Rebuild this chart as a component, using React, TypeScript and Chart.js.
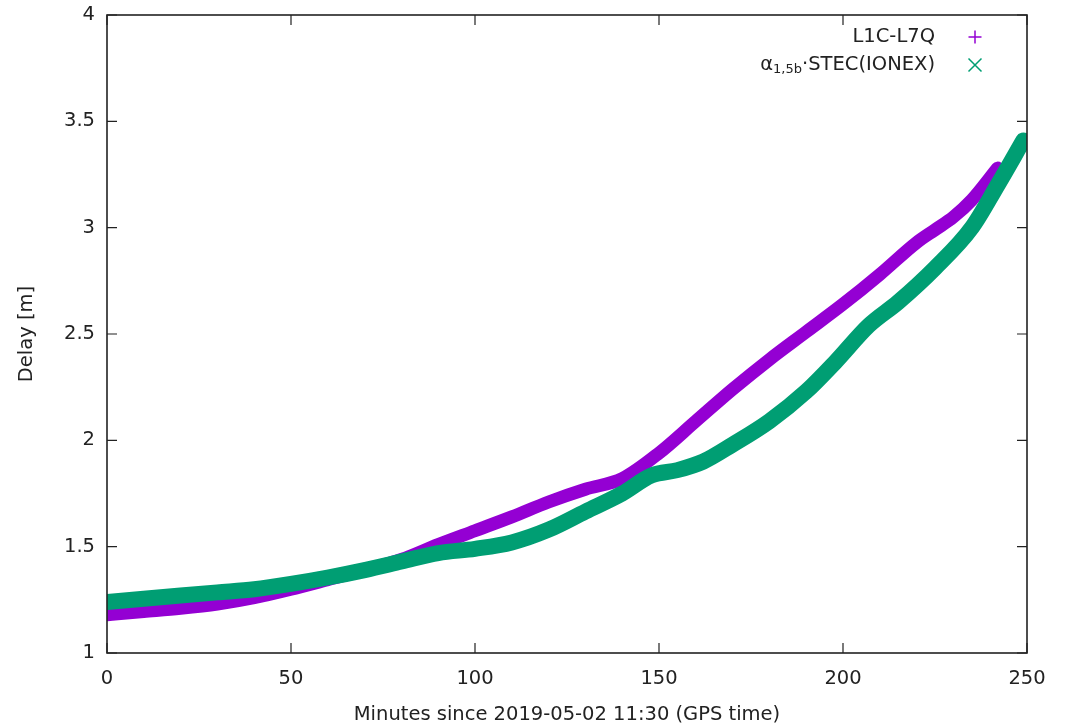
import React, { useEffect, useRef } from "react";
import { Chart, registerables } from "chart.js";

Chart.register(...registerables);

// L1C-L7Q (purple)
const minutesL1C = [0, 10, 20, 30, 40, 50, 60, 70, 80, 90, 100, 110, 120, 130, 140, 150, 160, 170, 180, 190, 200, 210, 220, 225, 230, 235, 242];
const delayL1C = [1.18, 1.195, 1.21, 1.23, 1.26, 1.3, 1.345, 1.39, 1.44, 1.51, 1.575, 1.64, 1.71, 1.77, 1.82, 1.94, 2.09, 2.24, 2.38, 2.51, 2.64, 2.78, 2.93, 2.99, 3.05, 3.13, 3.28];

// alpha * STEC(IONEX) (green)
const minutesIonex = [0, 10, 20, 30, 40, 50, 60, 70, 80, 90, 100, 110, 120, 130, 140, 148, 155, 162, 170, 180, 190, 198, 207, 215, 225, 235, 242, 249];
const delayIonex = [1.24, 1.255, 1.27, 1.285, 1.3, 1.325, 1.355, 1.39, 1.43, 1.47, 1.49, 1.52, 1.58, 1.665, 1.75, 1.835, 1.86, 1.9, 1.98, 2.09, 2.23, 2.37, 2.54, 2.65, 2.81, 3.0, 3.2, 3.41];

const xTickValues = [0, 50, 100, 150, 200, 250];
const yTickValues = [1, 1.5, 2, 2.5, 3, 3.5, 4];

const PURPLE = "#9400d3";
const GREEN = "#009e73";
const INK = "#222222";
const FONT_FAMILY = "'DejaVu Sans', sans-serif";
const FONT_SIZE = 19.5;

const framePlugin = {
  id: "gnuplotFrame",
  afterDraw(chart: any) {
    const { ctx, chartArea } = chart;
    const { left, right, top, bottom } = chartArea;
    const xs = chart.scales.x;
    const ys = chart.scales.y;
    ctx.save();
    ctx.strokeStyle = INK;
    ctx.lineWidth = 1.6;
    ctx.strokeRect(left, top, right - left, bottom - top);
    ctx.lineWidth = 1.2;
    ctx.beginPath();
    xs.ticks.forEach((t: any) => {
      const px = xs.getPixelForValue(t.value);
      ctx.moveTo(px, bottom);
      ctx.lineTo(px, bottom - 10);
      ctx.moveTo(px, top);
      ctx.lineTo(px, top + 10);
    });
    ys.ticks.forEach((t: any) => {
      const py = ys.getPixelForValue(t.value);
      ctx.moveTo(left, py);
      ctx.lineTo(left + 10, py);
      ctx.moveTo(right, py);
      ctx.lineTo(right - 10, py);
    });
    ctx.stroke();

    // legend
    const textRight = 935;
    const markX = 975;
    const row1 = 37;
    const row2 = 65;
    ctx.fillStyle = INK;
    ctx.textBaseline = "middle";
    ctx.textAlign = "right";
    ctx.font = `${FONT_SIZE}px ${FONT_FAMILY}`;
    ctx.fillText("L1C-L7Q", textRight, row1);

    const mainFont = `${FONT_SIZE}px ${FONT_FAMILY}`;
    const subFont = `13px ${FONT_FAMILY}`;
    ctx.font = mainFont;
    const wA = ctx.measureText("α").width;
    const wRest = ctx.measureText("·STEC(IONEX)").width;
    ctx.font = subFont;
    const wSub = ctx.measureText("1,5b").width;
    let x0 = textRight - (wA + wSub + wRest);
    ctx.textAlign = "left";
    ctx.font = mainFont;
    ctx.fillText("α", x0, row2);
    x0 += wA;
    ctx.font = subFont;
    ctx.fillText("1,5b", x0, row2 + 5);
    x0 += wSub;
    ctx.font = mainFont;
    ctx.fillText("·STEC(IONEX)", x0, row2);

    const h = 6.5;
    ctx.lineWidth = 1.5;
    ctx.strokeStyle = PURPLE;
    ctx.beginPath();
    ctx.moveTo(markX - h, row1);
    ctx.lineTo(markX + h, row1);
    ctx.moveTo(markX, row1 - h);
    ctx.lineTo(markX, row1 + h);
    ctx.stroke();
    ctx.strokeStyle = GREEN;
    ctx.beginPath();
    ctx.moveTo(markX - h, row2 - h);
    ctx.lineTo(markX + h, row2 + h);
    ctx.moveTo(markX - h, row2 + h);
    ctx.lineTo(markX + h, row2 - h);
    ctx.stroke();
    ctx.restore();
  },
};

export default function App() {
  const canvasRef = useRef<HTMLCanvasElement | null>(null);

  useEffect(() => {
    const canvas = canvasRef.current;
    if (!canvas) return;
    const purpleData = minutesL1C.map((m, i) => ({ x: m, y: delayL1C[i] }));
    const greenData = minutesIonex.map((m, i) => ({ x: m, y: delayIonex[i] }));
    const tickFont = { family: FONT_FAMILY, size: FONT_SIZE };

    const chart = new Chart(canvas, {
      type: "line",
      data: {
        datasets: [
          {
            label: "L1C-L7Q",
            data: purpleData,
            borderColor: PURPLE,
            backgroundColor: PURPLE,
            borderWidth: 13,
            pointRadius: 0,
            cubicInterpolationMode: "monotone",
            borderCapStyle: "round",
            borderJoinStyle: "round",
            order: 1,
          },
          {
            label: "α1,5b·STEC(IONEX)",
            data: greenData,
            borderColor: GREEN,
            backgroundColor: GREEN,
            borderWidth: 16,
            pointRadius: 0,
            cubicInterpolationMode: "monotone",
            borderCapStyle: "round",
            borderJoinStyle: "round",
            order: 0,
          },
        ],
      },
      options: {
        responsive: false,
        animation: false,
        layout: { padding: { top: 15, right: 39, left: 0, bottom: 0 } },
        plugins: {
          legend: { display: false },
          tooltip: { enabled: false },
        },
        scales: {
          x: {
            type: "linear",
            min: 0,
            max: 250,
            afterBuildTicks: (scale: any) => {
              scale.ticks = xTickValues.map((v) => ({ value: v }));
            },
            afterFit: (scale: any) => {
              scale.height = 74;
              scale.paddingLeft = 0;
              scale.paddingRight = 0;
            },
            grid: { display: false, drawTicks: false },
            border: { display: false },
            ticks: {
              font: tickFont,
              color: INK,
              padding: 14,
              maxRotation: 0,
              autoSkip: false,
              callback: (v: any) => String(v),
            },
            title: {
              display: true,
              text: "Minutes since 2019-05-02 11:30 (GPS time)",
              font: tickFont,
              color: INK,
              padding: { top: 0, bottom: 0 },
            },
          },
          y: {
            type: "linear",
            min: 1,
            max: 4,
            afterBuildTicks: (scale: any) => {
              scale.ticks = yTickValues.map((v) => ({ value: v }));
            },
            afterFit: (scale: any) => {
              scale.width = 107;
              scale.paddingTop = 0;
              scale.paddingBottom = 0;
            },
            grid: { display: false, drawTicks: false },
            border: { display: false },
            ticks: {
              font: tickFont,
              color: INK,
              padding: 12,
              autoSkip: false,
              callback: (v: any) => String(v),
            },
            title: {
              display: true,
              text: "Delay [m]",
              font: tickFont,
              color: INK,
              padding: { top: 15, bottom: 0 },
            },
          },
        },
      },
      plugins: [framePlugin],
    });
    return () => chart.destroy();
  }, []);

  return (
    <div style={{ position: "absolute", left: 0, top: 0, width: 1066, height: 727, background: "#fff" }}>
      <canvas ref={canvasRef} width={1066} height={727} style={{ display: "block" }} />
    </div>
  );
}
